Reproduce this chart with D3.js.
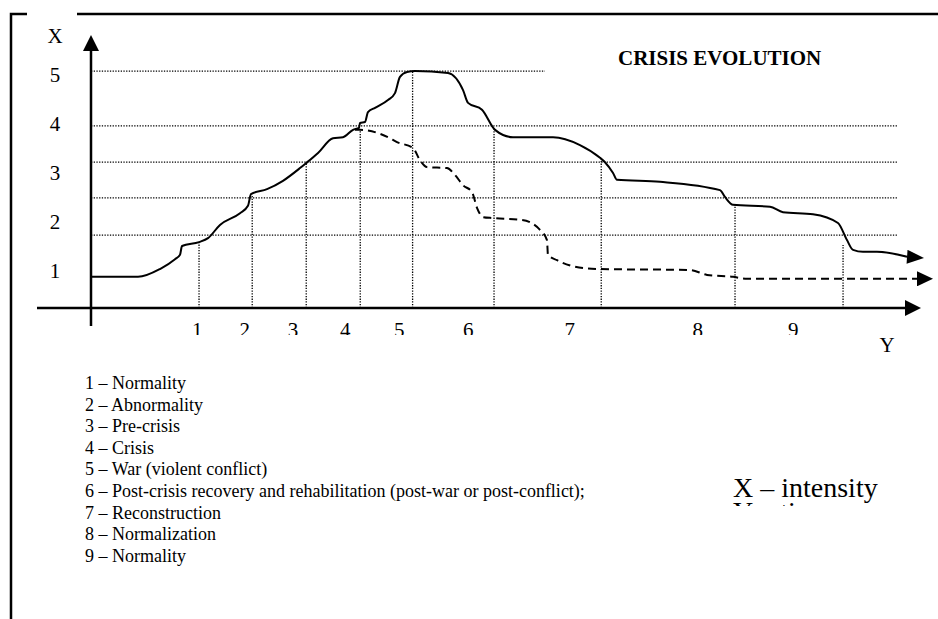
<!DOCTYPE html>
<html>
<head>
<meta charset="utf-8">
<script src="https://cdn.jsdelivr.net/npm/d3@7"></script>
<style>
  body { margin: 0; background: #fff; }
  svg text { font-family: "Liberation Serif", "Times New Roman", serif; fill: #000; }
</style>
</head>
<body>
<svg id="chart" width="938" height="619"></svg>
<script>
// time runs 0..100, intensity 0..5
var crisisTime = [0, 5.66, 8.3, 10.11, 10.71, 10.95, 13.0, 14.08, 15.52, 17.93, 18.89, 19.25, 21.18, 23.1, 25.15, 25.87, 27.32, 29.12, 30.32, 31.53, 32.25, 32.37, 32.97, 33.33, 34.18, 35.74, 36.58, 37.18, 38.03, 38.99, 42.96, 44.77, 45.37, 47.05, 48.62, 50.78, 55.6, 58.84, 61.25, 61.85, 62.82, 63.3, 68.47, 75.69, 76.29, 77.26, 81.71, 83.27, 86.88, 89.89, 90.97, 91.7, 92.9, 94.58, 98.2];
var crisisIntensity = [0.86, 0.86, 1.02, 1.22, 1.31, 1.49, 1.57, 1.65, 1.92, 2.16, 2.31, 2.55, 2.65, 2.82, 3.08, 3.18, 3.39, 3.69, 3.71, 3.86, 3.9, 4.0, 4.02, 4.22, 4.31, 4.47, 4.61, 4.94, 5.04, 5.06, 5.02, 4.67, 4.41, 4.27, 3.86, 3.71, 3.71, 3.55, 3.29, 3.2, 2.98, 2.84, 2.8, 2.63, 2.49, 2.33, 2.29, 2.18, 2.14, 1.96, 1.61, 1.41, 1.37, 1.37, 1.27];

var altTime = [31.77, 32.37, 35.74, 36.82, 38.75, 39.59, 40.43, 42.84, 43.8, 44.77, 45.85, 46.45, 47.17, 48.38, 51.87, 54.03, 54.87, 54.99, 56.08, 59.21, 61.25, 72.08, 74.13, 77.26, 78.94, 99.4];
var altIntensity = [3.86, 3.86, 3.71, 3.61, 3.49, 3.24, 3.1, 3.08, 2.94, 2.73, 2.59, 2.27, 2.08, 2.06, 2.02, 1.82, 1.61, 1.31, 1.2, 1.04, 1.02, 1.0, 0.9, 0.86, 0.82, 0.82];

var intensityTicks = [1, 2, 3, 4, 5];
var gridLevels = [5.06, 3.94, 3.2, 2.47, 1.71];
var gridEnds = [54.63, 97, 97, 97, 97];

var phaseLabels = ["1", "2", "3", "4", "5", "6", "7", "8", "9"];
var phaseLabelTime = [12.8, 18.5, 24.3, 30.6, 37.1, 45.4, 57.6, 73.0, 84.5];
var phaseBounds = [13.0, 19.4, 25.9, 32.4, 38.7, 48.5, 61.4, 77.5, 90.5];
var phaseTops = [1.57, 2.53, 3.2, 3.86, 5.04, 3.9, 3.24, 2.33, 1.51];

var legendItems = ["1 \u2013 Normality", "2 \u2013 Abnormality", "3 \u2013 Pre-crisis", "4 \u2013 Crisis",
  "5 \u2013 War (violent conflict)",
  "6 \u2013 Post-crisis recovery and rehabilitation (post-war or post-conflict);",
  "7 \u2013 Reconstruction", "8 \u2013 Normalization", "9 \u2013 Normality"];
var axisNotes = ["X \u2013 intensity", "Y \u2013 time"];

var svg = d3.select("#chart");
var x = d3.scaleLinear().domain([0, 100]).range([91, 922]);
var y = d3.scaleLinear().domain([0, 5]).range([319, 74]);

var defs = svg.append("defs");
function arrow(id, len, half, orient) {
  defs.append("marker")
    .attr("id", id)
    .attr("markerUnits", "userSpaceOnUse")
    .attr("viewBox", (-1) + " " + (-half) + " " + (len + 1) + " " + (2 * half))
    .attr("markerWidth", len + 1)
    .attr("markerHeight", 2 * half)
    .attr("refX", 0).attr("refY", 0)
    .attr("orient", orient)
    .append("path")
    .attr("d", "M0," + (-half) + "L" + len + ",0L0," + half + "Z")
    .attr("fill", "#000");
}
arrow("axisHead", 16, 8, "auto");
arrow("lineHead", 17, 7, "4");
arrow("dashHead", 16, 7.5, "0");

defs.append("clipPath").attr("id", "tickClip")
  .append("rect").attr("x", 0).attr("y", 0).attr("width", 938).attr("height", 335);
defs.append("clipPath").attr("id", "noteClip")
  .append("rect").attr("x", 0).attr("y", 0).attr("width", 938).attr("height", 506);

// frame
svg.append("path")
  .attr("d", "M77,14H938M27,14H11V619")
  .attr("fill", "none").attr("stroke", "#000").attr("stroke-width", 2.5);

// dotted grid
svg.selectAll(".grid").data(gridLevels).enter().append("line")
  .attr("class", "grid")
  .attr("x1", x(0))
  .attr("x2", function(d, i) { return x(gridEnds[i]); })
  .attr("y1", function(d) { return y(d); })
  .attr("y2", function(d) { return y(d); })
  .attr("stroke", "#000").attr("stroke-width", 1.3).attr("stroke-dasharray", "1.3,1.4");

svg.selectAll(".phase").data(phaseBounds).enter().append("line")
  .attr("class", "phase")
  .attr("x1", function(d) { return x(d); })
  .attr("x2", function(d) { return x(d); })
  .attr("y1", 308)
  .attr("y2", function(d, i) { return y(phaseTops[i]); })
  .attr("stroke", "#000").attr("stroke-width", 1.3).attr("stroke-dasharray", "1.3,1.4");

// axes
svg.append("line")
  .attr("x1", x(0)).attr("x2", x(0)).attr("y1", 326).attr("y2", 51)
  .attr("stroke", "#000").attr("stroke-width", 2.5).attr("marker-end", "url(#axisHead)");
svg.append("line")
  .attr("x1", 37).attr("x2", 905).attr("y1", 308).attr("y2", 308)
  .attr("stroke", "#000").attr("stroke-width", 2.5).attr("marker-end", "url(#axisHead)");

svg.append("text").attr("x", 55).attr("y", 43).attr("text-anchor", "middle")
  .style("font-size", "21px").text("X");
svg.selectAll(".ytick").data(intensityTicks).enter().append("text")
  .attr("class", "ytick")
  .attr("x", 55)
  .attr("y", function(d) { return y(d) + 8; })
  .attr("text-anchor", "middle")
  .style("font-size", "21px")
  .text(function(d) { return d; });

svg.append("g").attr("clip-path", "url(#tickClip)")
  .selectAll("text").data(phaseLabels).enter().append("text")
  .attr("x", function(d, i) { return x(phaseLabelTime[i]); })
  .attr("y", 337)
  .attr("text-anchor", "middle")
  .style("font-size", "21px")
  .text(function(d) { return d; });

svg.append("text").attr("x", 887).attr("y", 352).attr("text-anchor", "middle")
  .style("font-size", "21px").text("Y");

// curves
var line = d3.line()
  .x(function(d) { return x(d[0]); })
  .y(function(d) { return y(d[1]); })
  .curve(d3.curveMonotoneX);

svg.append("path")
  .datum(d3.zip(crisisTime, crisisIntensity))
  .attr("d", line)
  .attr("fill", "none").attr("stroke", "#000").attr("stroke-width", 2)
  .attr("marker-end", "url(#lineHead)");

svg.append("path")
  .datum(d3.zip(altTime, altIntensity))
  .attr("d", line)
  .attr("fill", "none").attr("stroke", "#000").attr("stroke-width", 2)
  .attr("stroke-dasharray", "8,5")
  .attr("marker-end", "url(#dashHead)");

svg.append("text").attr("x", 618).attr("y", 65)
  .style("font-size", "21px").style("font-weight", "bold")
  .text("CRISIS EVOLUTION");

// legend
svg.selectAll(".legend").data(legendItems).enter().append("text")
  .attr("class", "legend")
  .attr("x", 85)
  .attr("y", function(d, i) { return 389 + i * 21.6; })
  .style("font-size", "18px")
  .text(function(d) { return d; });

// second line is cut off in the original, only its top shows
svg.append("g").attr("clip-path", "url(#noteClip)")
  .selectAll("text").data(axisNotes).enter().append("text")
  .attr("x", 733)
  .attr("y", function(d, i) { return 497 + i * 24; })
  .style("font-size", "28px")
  .text(function(d) { return d; });
</script>
</body>
</html>
